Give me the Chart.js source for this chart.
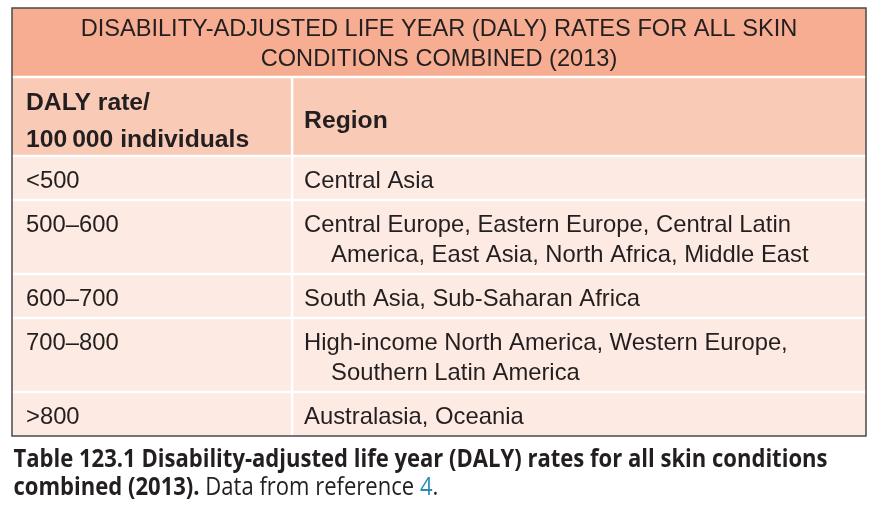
<!DOCTYPE html>
<html>
<head>
<meta charset="utf-8">
<script src="https://cdn.jsdelivr.net/npm/chart.js@4.4.1/dist/chart.umd.min.js"></script>
<style>
    html, body { margin: 0; padding: 0; background: #fff; }
    #wrap { position: relative; width: 881px; height: 519px; }
</style>
</head>
<body>
<div id="wrap"><canvas id="dalyTable"></canvas></div>
<script>
// table content
const titleLines = ['DISABILITY-ADJUSTED LIFE YEAR (DALY) RATES FOR ALL SKIN', 'CONDITIONS COMBINED (2013)'];
const rateHeader = ['DALY rate/', '100\u2009000 individuals'];
const regionHeader = ['Region'];
const rateBands = ['<500', '500\u2013600', '600\u2013700', '700\u2013800', '>800'];
const regionLines = [
    ['Central Asia'],
    ['Central Europe, Eastern Europe, Central Latin', 'America, East Asia, North Africa, Middle East'],
    ['South Asia, Sub-Saharan Africa'],
    ['High-income North America, Western Europe,', 'Southern Latin America'],
    ['Australasia, Oceania']
];
const captionBold = ['Table 123.1 Disability-adjusted life year (DALY) rates for all skin conditions', 'combined (2013).'];
const captionPlain = [' Data from reference ', '.'];
const captionRef = '4';

// layout (y units are band heights)
const titleH = 69, headerH = 79, rowPad = 14, lineH = 30;
const colSplit = 32.8;
const rowHeights = regionLines.map(lines => rowPad + lineH * lines.length);
const totalH = titleH + headerH + rowHeights.reduce((a, b) => a + b, 0);

const colors = {
    title: '#f6ad91',
    header: '#f9cbb7',
    row: '#fdeae2',
    border: '#4a4a4a',
    text: '#231f20',
    ref: '#2a8cba'
};
const GAP = 2.5;

function cellRect(x, y, x0, x1, y0, y1) {
    return {
        l: x.getPixelForValue(x0),
        r: x.getPixelForValue(x1),
        t: y.getPixelForValue(y0),
        b: y.getPixelForValue(y1)
    };
}

const tablePlugin = {
    id: 'dalyTable',
    afterDraw(chart) {
        const { ctx, chartArea, scales: { x, y } } = chart;
        ctx.save();

        // title band
        let top = 0;
        let c = cellRect(x, y, 0, 100, top, top + titleH);
        ctx.fillStyle = colors.title;
        ctx.fillRect(c.l, c.t, c.r - c.l, c.b - c.t - GAP / 2);
        ctx.fillStyle = colors.text;
        ctx.font = '23.6px "Liberation Sans", Arial, sans-serif';
        ctx.textAlign = 'center';
        ctx.textBaseline = 'alphabetic';
        titleLines.forEach((t, i) => {
            ctx.fillText(t, (c.l + c.r) / 2, y.getPixelForValue(top + 28 + i * 30));
        });
        top += titleH;

        // header band
        const left = cellRect(x, y, 0, colSplit, top, top + headerH);
        const right = cellRect(x, y, colSplit, 100, top, top + headerH);
        ctx.fillStyle = colors.header;
        ctx.fillRect(left.l, left.t + GAP / 2, left.r - left.l - GAP / 2, left.b - left.t - GAP);
        ctx.fillRect(right.l + GAP / 2, right.t + GAP / 2, right.r - right.l - GAP / 2, right.b - right.t - GAP);
        ctx.fillStyle = colors.text;
        ctx.font = 'bold 24.7px "Liberation Sans", Arial, sans-serif';
        ctx.textAlign = 'left';
        rateHeader.forEach((t, i) => {
            ctx.fillText(t, left.l + 14, y.getPixelForValue(top + 33 + i * 36.5));
        });
        regionHeader.forEach((t, i) => {
            ctx.fillText(t, right.l + 12, y.getPixelForValue(top + 51 + i * 30));
        });
        top += headerH;

        // data rows
        ctx.font = '23.8px "Liberation Sans", Arial, sans-serif';
        rateBands.forEach((band, r) => {
            const h = rowHeights[r];
            const last = r === rateBands.length - 1;
            const lc = cellRect(x, y, 0, colSplit, top, top + h);
            const rc = cellRect(x, y, colSplit, 100, top, top + h);
            const bottomGap = last ? 0 : GAP / 2;
            ctx.fillStyle = colors.row;
            ctx.fillRect(lc.l, lc.t + GAP / 2, lc.r - lc.l - GAP / 2, lc.b - lc.t - GAP / 2 - bottomGap);
            ctx.fillRect(rc.l + GAP / 2, rc.t + GAP / 2, rc.r - rc.l - GAP / 2, rc.b - rc.t - GAP / 2 - bottomGap);
            ctx.fillStyle = colors.text;
            ctx.fillText(band, lc.l + 14, y.getPixelForValue(top + 32));
            regionLines[r].forEach((t, i) => {
                ctx.fillText(t, rc.l + 12 + (i > 0 ? 27 : 0), y.getPixelForValue(top + 32 + i * lineH));
            });
            top += h;
        });

        // outer border
        ctx.strokeStyle = colors.border;
        ctx.lineWidth = 1.5;
        ctx.strokeRect(chartArea.left, chartArea.top, chartArea.width, chartArea.height);

        // caption under the table
        const capX = chartArea.left + 1.5;
        const capW = 814;
        const boldFont = 'bold 25px "Open Sans", sans-serif';
        const plainFont = '25px "Open Sans", sans-serif';
        ctx.font = boldFont;
        const sx = capW / ctx.measureText(captionBold[0]).width;
        const base1 = chartArea.bottom + 31;
        ctx.save();
        ctx.translate(capX, base1);
        ctx.scale(sx, 1);
        ctx.fillStyle = colors.text;
        ctx.fillText(captionBold[0], 0, 0);
        ctx.translate(0, 28);
        let cx = 0;
        ctx.fillText(captionBold[1], cx, 0);
        cx += ctx.measureText(captionBold[1]).width;
        ctx.font = plainFont;
        ctx.fillText(captionPlain[0], cx, 0);
        cx += ctx.measureText(captionPlain[0]).width;
        ctx.fillStyle = colors.ref;
        ctx.fillText(captionRef, cx, 0);
        cx += ctx.measureText(captionRef).width;
        ctx.fillStyle = colors.text;
        ctx.fillText(captionPlain[1], cx, 0);
        ctx.restore();

        ctx.restore();
    }
};

new Chart(document.getElementById('dalyTable'), {
    type: 'scatter',
    data: { datasets: [] },
    options: {
        responsive: true,
        maintainAspectRatio: false,
        animation: false,
        layout: { padding: { left: 12, right: 15, top: 8, bottom: 519 - 8 - totalH } },
        plugins: { legend: { display: false }, tooltip: { enabled: false } },
        scales: {
            x: { type: 'linear', min: 0, max: 100, display: false },
            y: { type: 'linear', min: 0, max: totalH, reverse: true, display: false }
        }
    },
    plugins: [tablePlugin]
});
</script>
</body>
</html>
